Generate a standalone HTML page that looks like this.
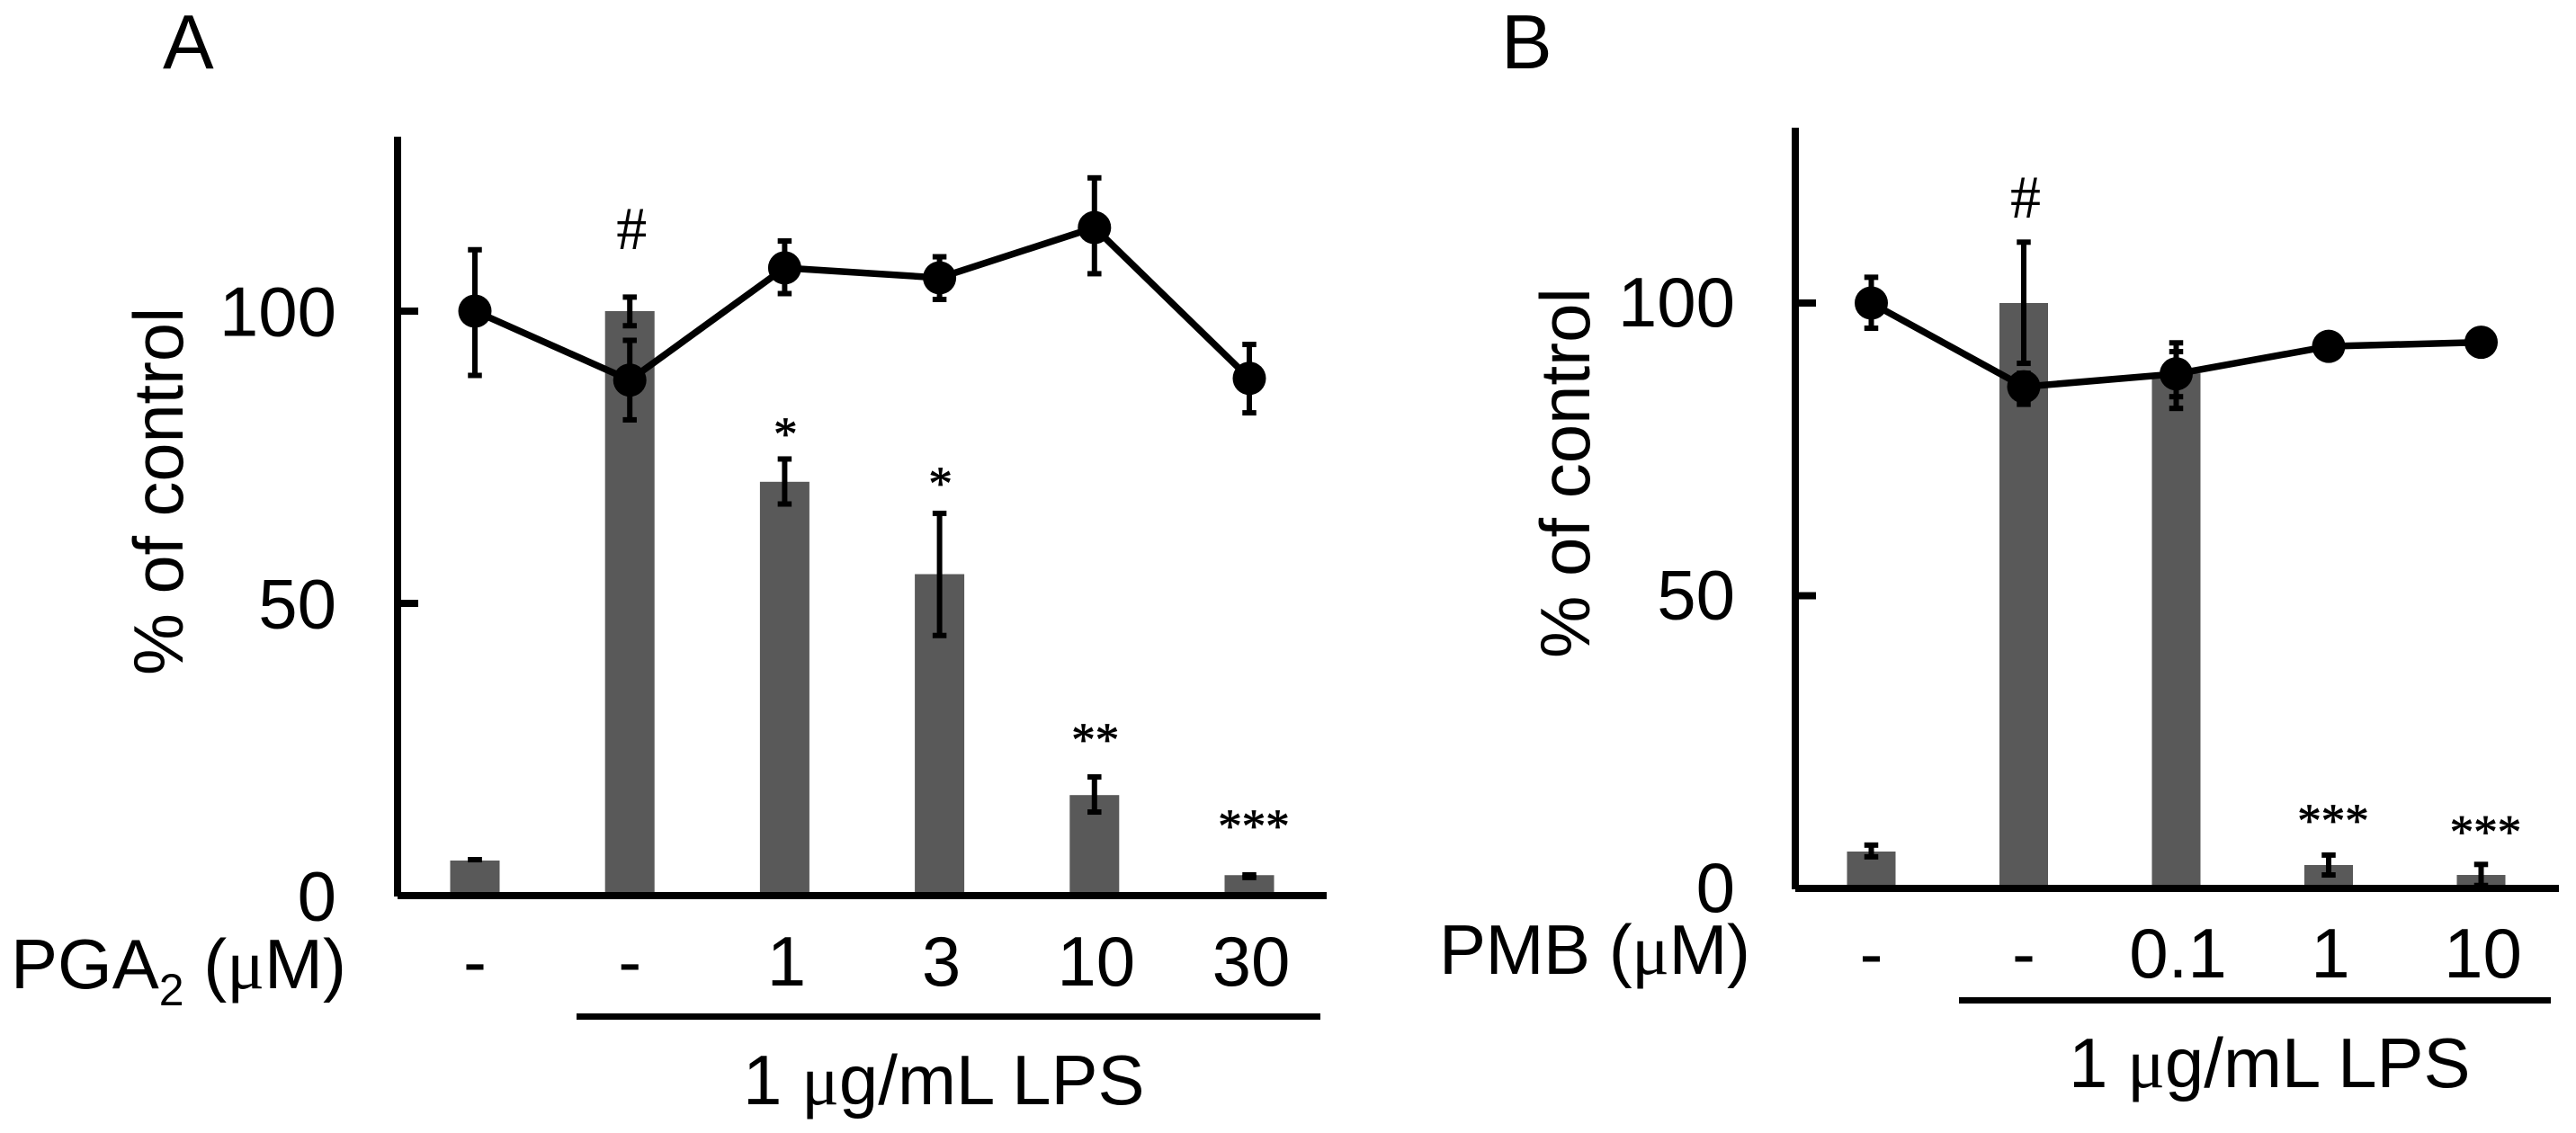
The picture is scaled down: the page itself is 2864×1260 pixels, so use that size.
<!DOCTYPE html>
<html lang="en">
<head>
<meta charset="utf-8">
<title>PGA2 and PMB effects on LPS response</title>
<style>
html,body{margin:0;padding:0;background:#fff;}
svg{display:block;}
text{font-family:"Liberation Sans",Arial,sans-serif;fill:#000;}
.serif{font-family:"Liberation Serif","Times New Roman",serif;}
</style>
</head>
<body>
<svg id="chart" xmlns="http://www.w3.org/2000/svg" width="2864" height="1260" viewBox="0 0 2864 1260">
<rect width="2864" height="1260" fill="#ffffff"/>
<g id="panelA">
  <text x="181" y="76" font-size="85">A</text>
  <text transform="translate(203 751) rotate(-90)" font-size="77.5">% of control</text>
  <text x="12" y="1099" font-size="78">PGA<tspan font-size="50" dy="19">2</tspan><tspan dy="-19"> (</tspan><tspan class="serif">μ</tspan>M)</text>
  <rect x="641" y="1127" width="827" height="7" fill="#000"/>
  <text x="826" y="1228" font-size="78">1 <tspan class="serif">μ</tspan>g/mL LPS</text>
</g>
<g id="panelB">
  <text x="1669" y="76" font-size="85">B</text>
  <text transform="translate(1767 732) rotate(-90)" font-size="78">% of control</text>
  <text x="1600" y="1083" font-size="78" letter-spacing="-0.5">PMB (<tspan class="serif">μ</tspan>M)</text>
  <rect x="2178" y="1109" width="658" height="7" fill="#000"/>
  <text x="2300" y="1209" font-size="78">1 <tspan class="serif">μ</tspan>g/mL LPS</text>
</g>
</svg>
<script>
// Shared y-axis ticks
const yTicks = [0, 50, 100];

// Panel A data
const categoriesA = ['-', '-', '1', '3', '10', '30'];
const barValuesA = [6, 100, 70.8, 55, 17.2, 3.5];
const barHighA = [6.15, 102.4, 74.7, 65.4, 20.3, 3.55];
const barLowA = [6.15, 97.5, 67, 44.5, 14.3, 3.1];
const lineValuesA = [100, 88.2, 107.4, 105.7, 114.3, 88.5];
const lineHighA = [110.5, 95, 112, 109.3, 122.8, 94.3];
const lineLowA = [89, 81.4, 103, 102, 106.4, 82.6];
const sigMarksA = ['', '#', '*', '*', '**', '***'];
const sigLevelsA = [0, 110.6, 76.2, 67.8, 23.9, 9.15];

// Panel B data
const categoriesB = ['-', '-', '0.1', '1', '10'];
const barValuesB = [6.3, 100, 88, 4, 2.3];
const barHighB = [7.4, 110.4, 91.7, 5.7, 4.1];
const barLowB = [5.4, 89.7, 84, 2.3, 0.5];
const lineValuesB = [100, 85.7, 87.9, 92.6, 93.3];
const lineHighB = [104.4, 88, 93.2, 92.9, 93.6];
const lineLowB = [95.7, 82.7, 82, 92.3, 93];
const sigMarksB = ['', '#', '', '***', '***'];
const sigLevelsB = [0, 114.6, 0, 8.8, 6.9];

const NS = 'http://www.w3.org/2000/svg';

function make(tag, attrs, parent, name) {
  const el = document.createElementNS(NS, tag);
  for (const k in attrs) el.setAttribute(k, attrs[k]);
  
  
  parent.appendChild(el);
  return el;
}

function drawErrorBar(parent, x, yHigh, yLow, name) {
  make('line', {x1: x, x2: x, y1: yHigh, y2: yLow, stroke: '#000', 'stroke-width': 6}, parent, name + '-stem');
  make('rect', {x: x - 7.75, y: yHigh - 3, width: 15.5, height: 6, fill: '#000'}, parent, name + '-cap-high');
  make('rect', {x: x - 7.75, y: yLow - 3, width: 15.5, height: 6, fill: '#000'}, parent, name + '-cap-low');
}

function drawPanel(root, p, d) {
  const id = p.id;
  const y = v => p.y0 - v * p.pxPerUnit;
  const x = i => p.x0 + i * p.step;

  d.bars.forEach((v, i) => {
    make('rect', {x: x(i) - p.barW / 2, y: y(v), width: p.barW, height: y(0) - y(v), fill: '#595959'}, root, id + '-bar-' + (i + 1));
  });

  // axes
  make('rect', {x: p.axisX - 4, y: p.axisTop, width: 8, height: p.y0 + 1 - p.axisTop, fill: '#000'}, root, id + '-y-axis');
  make('rect', {x: p.axisX, y: p.y0 - 4, width: p.axisEnd - p.axisX, height: 8, fill: '#000'}, root, id + '-x-axis');

  yTicks.forEach(t => {
    if (t > 0) make('rect', {x: p.axisX, y: y(t) - 4, width: 23, height: 8, fill: '#000'}, root, id + '-y-tick-' + t);
    const label = make('text', {x: p.tickRight, y: y(t) + p.tickBase, 'font-size': 78, 'text-anchor': 'end'}, root, id + '-y-tick-label-' + t);
    label.textContent = t;
  });

  d.bars.forEach((v, i) => {
    drawErrorBar(root, x(i), y(d.barHigh[i]), y(d.barLow[i]), id + '-bar-error-' + (i + 1));
  });
  d.line.forEach((v, i) => {
    drawErrorBar(root, x(i), y(d.lineHigh[i]), y(d.lineLow[i]), id + '-point-error-' + (i + 1));
  });

  const pts = d.line.map((v, i) => x(i) + ',' + y(v)).join(' ');
  make('polyline', {points: pts, fill: 'none', stroke: '#000', 'stroke-width': 7.5, 'stroke-linejoin': 'round'}, root, id + '-line');
  d.line.forEach((v, i) => {
    make('circle', {cx: x(i), cy: y(v), r: 18.5, fill: '#000'}, root, id + '-point-' + (i + 1));
  });

  d.cats.forEach((c, i) => {
    const t = make('text', {x: x(i) + (c === '-' ? 0 : 2), y: p.catBase, 'font-size': 78, 'text-anchor': 'middle'}, root, id + '-category-label-' + (i + 1));
    t.textContent = c;
  });

  d.marks.forEach((m, i) => {
    if (!m) return;
    const isHash = m === '#';
    const t = make('text', {x: x(i) + (isHash ? 2 : (m === '***' ? 5 : 1)), y: y(d.levels[i]), 'font-size': isHash ? 68 : 53, 'text-anchor': 'middle', class: 'serif', stroke: '#000', 'stroke-width': isHash ? 0 : 0.8}, root, id + '-significance-' + (i + 1));
    t.textContent = m;
  });
}

drawPanel(document.getElementById('panelA'),
  {id: 'panel-a', x0: 528, step: 172.2, y0: 996, pxPerUnit: 6.5, barW: 55, axisX: 442, axisTop: 152, axisEnd: 1475, tickRight: 374, tickBase: 27.5, catBase: 1096},
  {cats: categoriesA, bars: barValuesA, barHigh: barHighA, barLow: barLowA, line: lineValuesA, lineHigh: lineHighA, lineLow: lineLowA, marks: sigMarksA, levels: sigLevelsA});

drawPanel(document.getElementById('panelB'),
  {id: 'panel-b', x0: 2080.5, step: 169.5, y0: 988, pxPerUnit: 6.51, barW: 54, axisX: 1996, axisTop: 142, axisEnd: 2845, tickRight: 1929, tickBase: 26, catBase: 1087},
  {cats: categoriesB, bars: barValuesB, barHigh: barHighB, barLow: barLowB, line: lineValuesB, lineHigh: lineHighB, lineLow: lineLowB, marks: sigMarksB, levels: sigLevelsB});
</script>
</body>
</html>
